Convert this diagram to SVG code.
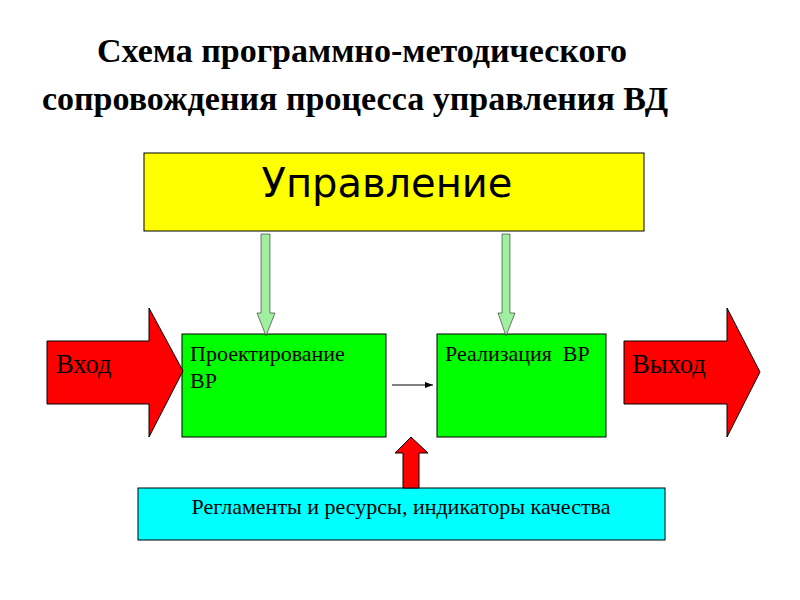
<svg xmlns="http://www.w3.org/2000/svg" width="800" height="600" viewBox="0 0 800 600">
<style>
.title{font-family:"Liberation Serif","Times New Roman",serif;font-weight:bold;font-size:34px;fill:#000;text-anchor:middle}
.serif{font-family:"Liberation Serif","Times New Roman",serif;fill:#000}
.box{stroke:#000;stroke-width:1}
.big{stroke:#000;stroke-width:1;fill:#ff0000}
.ctl{fill:#a0eea0;stroke:#000;stroke-width:0.5}
</style>
<defs>
<marker id="ah" markerWidth="8" markerHeight="6" refX="8" refY="3" orient="auto" markerUnits="userSpaceOnUse">
<path d="M0,0 L8,3 L0,6 Z" fill="#000"/>
</marker>
</defs>
<rect width="800" height="600" fill="#fff"/>
<g id="title">
<text class="title" x="362" y="62">Схема программно-методического</text>
<text class="title" x="355" y="110">сопровождения процесса управления ВД</text>
</g>
<g id="upravlenie">
<rect class="box" x="144" y="153" width="500" height="78" fill="#ffff00"/>
<text x="387" y="197" font-family="DejaVu Sans, sans-serif" font-size="40" text-anchor="middle" fill="#000">Управление</text>
</g>
<g id="proekt">
<rect class="box" x="182" y="334" width="204" height="103" fill="#00ff00"/>
<text class="serif" x="190" y="361" font-size="22">Проектирование</text>
<text class="serif" x="190" y="388" font-size="22">ВР</text>
</g>
<g id="realiz">
<rect class="box" x="437" y="334" width="169" height="103" fill="#00ff00"/>
<text class="serif" x="445" y="361" font-size="22" xml:space="preserve">Реализация  ВР</text>
</g>
<g id="vhod">
<path class="big" d="M47,341 L149,341 L149,308 L183,371 L149,437 L149,404 L47,404 Z"/>
<text class="serif" x="56" y="373" font-size="26.5">Вход</text>
</g>
<g id="vyhod">
<path class="big" d="M624,341 L727,341 L727,308 L760,372 L727,437 L727,404 L624,404 Z"/>
<text class="serif" x="632" y="373" font-size="26.5">Выход</text>
</g>
<g id="reglament">
<rect class="box" x="138" y="488" width="527" height="52" fill="#00ffff"/>
<text class="serif" x="401" y="514" font-size="22" text-anchor="middle">Регламенты и ресурсы, индикаторы качества</text>
</g>
<g id="connectors">
<path class="ctl" d="M261,234 L270,234 L270,313 L275,313 L266,336 L257,313 L261,313 Z"/>
<path class="ctl" d="M502,234 L510,234 L510,313 L515,313 L506,336 L498,313 L502,313 Z"/>
<line x1="392" y1="385" x2="433" y2="385" stroke="#000" stroke-width="1" marker-end="url(#ah)"/>
<path class="big" d="M403,488 L403,453 L395,453 L411,437 L428,453 L419,453 L419,488 Z"/>
</g>
</svg>
